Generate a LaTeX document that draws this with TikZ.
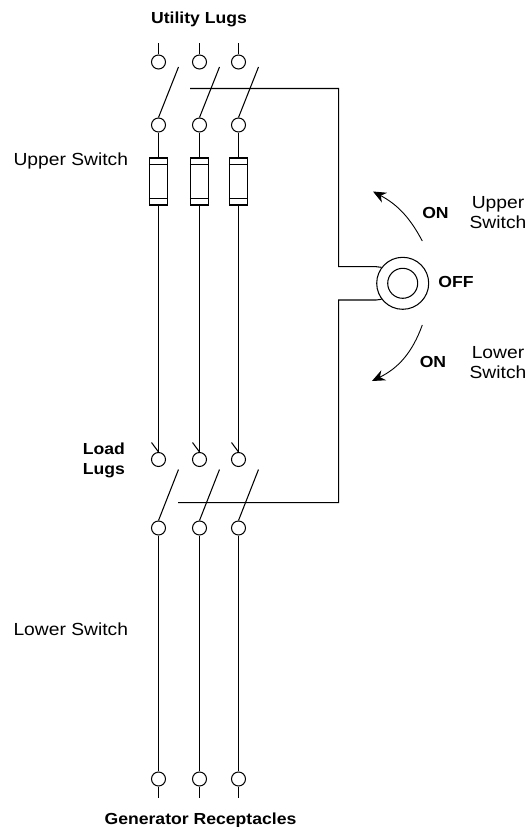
\documentclass[tikz,border=0pt]{standalone}
\usepackage{fontspec}
\setmainfont[FakeStretch=1.1]{Liberation Sans}
\usetikzlibrary{arrows.meta}
\tikzset{
    lug/.style={draw, circle, fill=white, inner sep=0pt, minimum size=14pt},
    fuse/.style={draw, fill=white, inner sep=0pt, minimum width=18pt, minimum height=47pt},
    wire/.style={line width=1.05pt},
    swing/.style={line width=0.9pt, -{Stealth[length=13pt,width=11pt]}},
    plain/.style={font=\fontsize{17.5}{20}\selectfont, inner sep=0pt},
    heavy/.style={plain, font=\fontsize{16}{20}\selectfont\bfseries}
}
\begin{document}
\begin{tikzpicture}[x=1pt, y=-1pt, wire]
    \useasboundingbox (0,0) rectangle (527,827);
    \foreach \i/\x/\dx in {1/158.5/20, 2/199.5/20, 3/238.5/20} {
        \coordinate (topend\i) at (\x,43);
        \coordinate (botend\i) at (\x,798);
        \coordinate (blade\i) at (\x+\dx,67);
        \coordinate (lowblade\i) at (\x+\dx,469.5);
        \coordinate (slash\i) at (\x-7,442.5);
        \node[lug] (utility\i) at (\x,62) {};
        \node[lug] (upper\i) at (\x,125) {};
        \node[fuse] (fuse\i) at (\x,181.5) {};
        \node[lug] (load\i) at (\x,459.5) {};
        \node[lug] (lower\i) at (\x,528) {};
        \node[lug] (gen\i) at (\x,779) {};
        \draw (topend\i) -- (utility\i);
        \draw (upper\i.north) -- (blade\i);
        \draw (upper\i) -- (fuse\i);
        \draw ([yshift=7pt]fuse\i.south west) -- ([yshift=7pt]fuse\i.south east);
        \draw ([yshift=-7pt]fuse\i.north west) -- ([yshift=-7pt]fuse\i.north east);
        \draw (fuse\i) -- (load\i);
        \draw (slash\i) -- (load\i.north);
        \draw (lower\i.north) -- (lowblade\i);
        \draw (lower\i) -- (gen\i);
        \draw (gen\i) -- (botend\i);
    }
    % operating handle
    \node[draw, circle, inner sep=0pt, minimum size=52pt] (handle) at (402.7,283.3) {};
    \node[draw, circle, inner sep=0pt, minimum size=30pt] (hub) at (handle.center) {};
    \coordinate (uppertie) at (190,88.5);
    \coordinate (lowertie) at (178,502.7);
    \draw (uppertie) -- (338.7,88.5) |- (handle.west |- 0,266.7) -- (handle.143);
    \draw (lowertie) -- (338.7,502.7) |- (handle.west |- 0,300) -- (handle.217);
    % rotation arrows
    \coordinate (upstart) at (422.3,241);
    \coordinate (upstop) at (373,191.5);
    \coordinate (downstart) at (422.3,325);
    \coordinate (downstop) at (372,381);
    \draw[swing] (upstart) to[bend right=17] (upstop);
    \draw[swing] (downstart) to[bend left=22] (downstop);
    % labels
    \node[heavy] (utilitytext) at (199,19.5) {Utility Lugs};
    \node[heavy] (gentext) at (200.5,820.5) {Generator Receptacles};
    \node[heavy, align=right, anchor=east] (loadtext) at (125.5,460) {Load\\Lugs};
    \node[plain, anchor=west] (uppertext) at (13,160.5) {Upper Switch};
    \node[plain, anchor=west] (lowertext) at (13,629) {Lower Switch};
    \node[heavy] (onup) at (435.5,212.5) {ON};
    \node[heavy] (ondown) at (433,361.5) {ON};
    \node[heavy] (off) at (456,282) {OFF};
    \node[plain, align=center] (upswitch) at (498,213) {Upper\\Switch};
    \node[plain, align=center] (lowswitch) at (498,363) {Lower\\Switch};
\end{tikzpicture}
\end{document}
